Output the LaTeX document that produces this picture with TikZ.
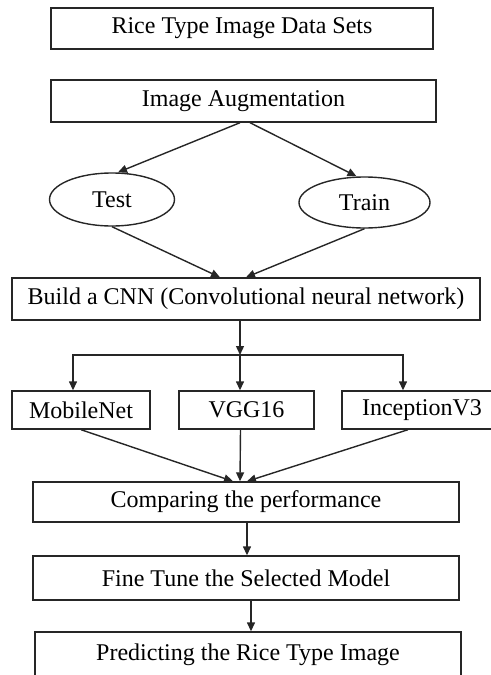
\documentclass[tikz,border=0pt]{standalone}
\usepackage{fontspec}
\setmainfont{Liberation Serif}
\usetikzlibrary{arrows.meta,shapes.geometric}

\tikzset{
  box/.style={draw,rectangle,inner sep=0pt,minimum height=20.5pt,font=\fontsize{12}{14}\selectfont},
  oval/.style={draw,ellipse,inner sep=0pt,font=\fontsize{12}{14}\selectfont},
  arr/.style={-{Triangle[length=4.5pt,width=4pt]}}
}

\begin{document}
\begin{tikzpicture}[x=0.5pt,y=-0.5pt,line width=0.7pt,draw=black!85]
  \clip (0,0) rectangle (491,675);
  \useasboundingbox (0,0) rectangle (491,675);
  \node[box,minimum width=191pt] (data) at (242,28.5) {Rice Type Image Data Sets};
  \node[box,minimum width=192.5pt,minimum height=21pt] (aug) at (243.5,101) {Image Augmentation};
  \node[oval,minimum width=62.5pt,minimum height=26.5pt] (test) at (112,199.5) {Test};
  \node[oval,minimum width=65.5pt,minimum height=25.5pt] (train) at (364.5,202.5) {Train};
  \node[box,minimum width=234pt,minimum height=21pt] (cnn) at (246,299) {Build a CNN (Convolutional neural network)};
  \coordinate (split) at (240,355);
  \node[box,minimum width=69pt,minimum height=19pt] (mobile) at (81,410) {MobileNet};
  \node[box,minimum width=67.5pt,minimum height=19pt] (vgg) at (246.5,410) {VGG16};
  \node[box,minimum width=80pt,minimum height=19pt] (incep) at (422,410) {InceptionV3};
  \node[box,minimum width=213pt,minimum height=20pt] (compare) at (246,502) {Comparing the performance};
  \node[box,minimum width=213pt,minimum height=22pt] (fine) at (246,578) {Fine Tune the Selected Model};
  \node[box,minimum width=213pt,minimum height=23pt] (predict) at (248,655) {Predicting the Rice Type Image};

  \draw[arr] ([xshift=-1.75pt]aug.south) -- ([xshift=3pt]test.north);
  \draw[arr] ([xshift=3.25pt]aug.south) -- ([xshift=-4pt]train.north);
  \draw[arr] (test.south) -- ([xshift=-13pt]cnn.north);
  \draw[arr] (train.south) -- (cnn.north);
  \draw[arr] ([xshift=-3pt]cnn.south) -- (split);
  \draw[arr] (split) -| ([xshift=-4pt]mobile.north);
  \draw[arr] (split) -- ([xshift=-3.25pt]vgg.north);
  \draw[arr] (split) -| ([xshift=-9.5pt]incep.north);
  \draw[arr] (mobile.south) -- ([xshift=-6.5pt]compare.north);
  \draw[arr] ([xshift=-3pt]vgg.south) -- ([xshift=-3pt]compare.north);
  \draw[arr] ([xshift=-7pt]incep.south) -- ([xshift=0.5pt]compare.north);
  \draw[arr] ([xshift=0.5pt]compare.south) -- ([xshift=0.5pt]fine.north);
  \draw[arr] ([xshift=2.5pt]fine.south) -- ([xshift=2.5pt]fine.south |- predict.north);
\end{tikzpicture}
\end{document}
